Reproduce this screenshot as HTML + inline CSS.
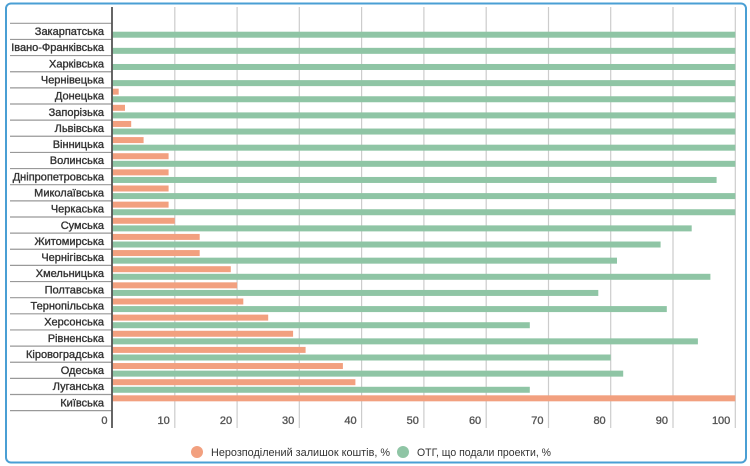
<!DOCTYPE html>
<html><head><meta charset="utf-8"><style>
body{margin:0;background:#fff;}
svg{display:block;font-family:"Liberation Sans",sans-serif;}
.o{fill:#f2a07f}.g{fill:#8fc5a5}
.l{font-size:11px;fill:#333;stroke:#333;stroke-width:0.35;text-anchor:end}
.t{font-size:11px;fill:#555;stroke:#555;stroke-width:0.35;text-anchor:end}
</style></head><body>
<svg width="750" height="466" viewBox="0 0 750 466" xmlns="http://www.w3.org/2000/svg">
<rect x="6" y="3.5" width="740" height="459" rx="5" fill="#fff" stroke="#4a9fd4" stroke-width="2"/>
<g stroke="#ccc" stroke-width="1.2">
<line x1="174.8" y1="7" x2="174.8" y2="428"/><line x1="237.1" y1="7" x2="237.1" y2="428"/><line x1="299.3" y1="7" x2="299.3" y2="428"/><line x1="361.6" y1="7" x2="361.6" y2="428"/><line x1="423.9" y1="7" x2="423.9" y2="428"/><line x1="486.2" y1="7" x2="486.2" y2="428"/><line x1="548.5" y1="7" x2="548.5" y2="428"/><line x1="610.7" y1="7" x2="610.7" y2="428"/><line x1="673" y1="7" x2="673" y2="428"/><line x1="735.3" y1="7" x2="735.3" y2="428"/>
</g>
<g stroke="#999" stroke-width="1.2">
<line x1="10" y1="23.3" x2="112" y2="23.3"/><line x1="10" y1="39.44" x2="112" y2="39.44"/><line x1="10" y1="55.58" x2="112" y2="55.58"/><line x1="10" y1="71.72" x2="112" y2="71.72"/><line x1="10" y1="87.86" x2="112" y2="87.86"/><line x1="10" y1="104" x2="112" y2="104"/><line x1="10" y1="120.14" x2="112" y2="120.14"/><line x1="10" y1="136.28" x2="112" y2="136.28"/><line x1="10" y1="152.42" x2="112" y2="152.42"/><line x1="10" y1="168.56" x2="112" y2="168.56"/><line x1="10" y1="184.7" x2="112" y2="184.7"/><line x1="10" y1="200.84" x2="112" y2="200.84"/><line x1="10" y1="216.98" x2="112" y2="216.98"/><line x1="10" y1="233.12" x2="112" y2="233.12"/><line x1="10" y1="249.26" x2="112" y2="249.26"/><line x1="10" y1="265.4" x2="112" y2="265.4"/><line x1="10" y1="281.54" x2="112" y2="281.54"/><line x1="10" y1="297.68" x2="112" y2="297.68"/><line x1="10" y1="313.82" x2="112" y2="313.82"/><line x1="10" y1="329.96" x2="112" y2="329.96"/><line x1="10" y1="346.1" x2="112" y2="346.1"/><line x1="10" y1="362.24" x2="112" y2="362.24"/><line x1="10" y1="378.38" x2="112" y2="378.38"/><line x1="10" y1="394.52" x2="112" y2="394.52"/><line x1="10" y1="410.66" x2="112" y2="410.66"/>
</g>
<g transform="translate(0,23.3)"><rect class="g" x="112.5" y="8.4" width="622.8" height="6"/><text class="l" x="104" y="11.8">Закарпатська</text></g>
<g transform="translate(0,39.44)"><rect class="g" x="112.5" y="8.4" width="622.8" height="6"/><text class="l" x="104" y="11.8">Івано-Франківська</text></g>
<g transform="translate(0,55.58)"><rect class="g" x="112.5" y="8.4" width="622.8" height="6"/><text class="l" x="104" y="11.8">Харківська</text></g>
<g transform="translate(0,71.72)"><rect class="g" x="112.5" y="8.4" width="622.8" height="6"/><text class="l" x="104" y="11.8">Чернівецька</text></g>
<g transform="translate(0,87.86)"><rect class="o" x="112.5" y="0.8" width="6.2" height="6"/><rect class="g" x="112.5" y="8.4" width="622.8" height="6"/><text class="l" x="104" y="11.8">Донецька</text></g>
<g transform="translate(0,104)"><rect class="o" x="112.5" y="0.8" width="12.5" height="6"/><rect class="g" x="112.5" y="8.4" width="622.8" height="6"/><text class="l" x="104" y="11.8">Запорізька</text></g>
<g transform="translate(0,120.14)"><rect class="o" x="112.5" y="0.8" width="18.7" height="6"/><rect class="g" x="112.5" y="8.4" width="622.8" height="6"/><text class="l" x="104" y="11.8">Львівська</text></g>
<g transform="translate(0,136.28)"><rect class="o" x="112.5" y="0.8" width="31.1" height="6"/><rect class="g" x="112.5" y="8.4" width="622.8" height="6"/><text class="l" x="104" y="11.8">Вінницька</text></g>
<g transform="translate(0,152.42)"><rect class="o" x="112.5" y="0.8" width="56.1" height="6"/><rect class="g" x="112.5" y="8.4" width="622.8" height="6"/><text class="l" x="104" y="11.8">Волинська</text></g>
<g transform="translate(0,168.56)"><rect class="o" x="112.5" y="0.8" width="56.1" height="6"/><rect class="g" x="112.5" y="8.4" width="604.1" height="6"/><text class="l" x="104" y="11.8">Дніпропетровська</text></g>
<g transform="translate(0,184.7)"><rect class="o" x="112.5" y="0.8" width="56.1" height="6"/><rect class="g" x="112.5" y="8.4" width="622.8" height="6"/><text class="l" x="104" y="11.8">Миколаївська</text></g>
<g transform="translate(0,200.84)"><rect class="o" x="112.5" y="0.8" width="56.1" height="6"/><rect class="g" x="112.5" y="8.4" width="622.8" height="6"/><text class="l" x="104" y="11.8">Черкаська</text></g>
<g transform="translate(0,216.98)"><rect class="o" x="112.5" y="0.8" width="62.3" height="6"/><rect class="g" x="112.5" y="8.4" width="579.2" height="6"/><text class="l" x="104" y="11.8">Сумська</text></g>
<g transform="translate(0,233.12)"><rect class="o" x="112.5" y="0.8" width="87.2" height="6"/><rect class="g" x="112.5" y="8.4" width="548.1" height="6"/><text class="l" x="104" y="11.8">Житомирська</text></g>
<g transform="translate(0,249.26)"><rect class="o" x="112.5" y="0.8" width="87.2" height="6"/><rect class="g" x="112.5" y="8.4" width="504.5" height="6"/><text class="l" x="104" y="11.8">Чернігівська</text></g>
<g transform="translate(0,265.4)"><rect class="o" x="112.5" y="0.8" width="118.3" height="6"/><rect class="g" x="112.5" y="8.4" width="597.9" height="6"/><text class="l" x="104" y="11.8">Хмельницька</text></g>
<g transform="translate(0,281.54)"><rect class="o" x="112.5" y="0.8" width="124.6" height="6"/><rect class="g" x="112.5" y="8.4" width="485.8" height="6"/><text class="l" x="104" y="11.8">Полтавська</text></g>
<g transform="translate(0,297.68)"><rect class="o" x="112.5" y="0.8" width="130.8" height="6"/><rect class="g" x="112.5" y="8.4" width="554.3" height="6"/><text class="l" x="104" y="11.8">Тернопільська</text></g>
<g transform="translate(0,313.82)"><rect class="o" x="112.5" y="0.8" width="155.7" height="6"/><rect class="g" x="112.5" y="8.4" width="417.3" height="6"/><text class="l" x="104" y="11.8">Херсонська</text></g>
<g transform="translate(0,329.96)"><rect class="o" x="112.5" y="0.8" width="180.6" height="6"/><rect class="g" x="112.5" y="8.4" width="585.4" height="6"/><text class="l" x="104" y="11.8">Рівненська</text></g>
<g transform="translate(0,346.1)"><rect class="o" x="112.5" y="0.8" width="193.1" height="6"/><rect class="g" x="112.5" y="8.4" width="498.2" height="6"/><text class="l" x="104" y="11.8">Кіровоградська</text></g>
<g transform="translate(0,362.24)"><rect class="o" x="112.5" y="0.8" width="230.4" height="6"/><rect class="g" x="112.5" y="8.4" width="510.7" height="6"/><text class="l" x="104" y="11.8">Одеська</text></g>
<g transform="translate(0,378.38)"><rect class="o" x="112.5" y="0.8" width="242.9" height="6"/><rect class="g" x="112.5" y="8.4" width="417.3" height="6"/><text class="l" x="104" y="11.8">Луганська</text></g>
<g transform="translate(0,394.52)"><rect class="o" x="112.5" y="0.8" width="622.8" height="6"/><text class="l" x="104" y="11.8">Київська</text></g>
<line x1="112" y1="7" x2="112" y2="428" stroke="#555" stroke-width="1.8"/>
<text class="t" x="107.5" y="424">0</text><text class="t" x="169.8" y="424">10</text><text class="t" x="232.1" y="424">20</text><text class="t" x="294.3" y="424">30</text><text class="t" x="356.6" y="424">40</text><text class="t" x="418.9" y="424">50</text><text class="t" x="481.2" y="424">60</text><text class="t" x="543.5" y="424">70</text><text class="t" x="605.7" y="424">80</text><text class="t" x="668" y="424">90</text><text class="t" x="730.3" y="424">100</text>
<circle cx="197" cy="452" r="6" fill="#f2a07f"/><text x="211" y="456" font-size="11" fill="#333" textLength="179" lengthAdjust="spacingAndGlyphs">Нерозподілений залишок коштів, %</text>
<circle cx="403" cy="452" r="6" fill="#8fc5a5"/><text x="417" y="456" font-size="11" fill="#333" textLength="134" lengthAdjust="spacingAndGlyphs">ОТГ, що подали проекти, %</text>
</svg>
</body></html>
